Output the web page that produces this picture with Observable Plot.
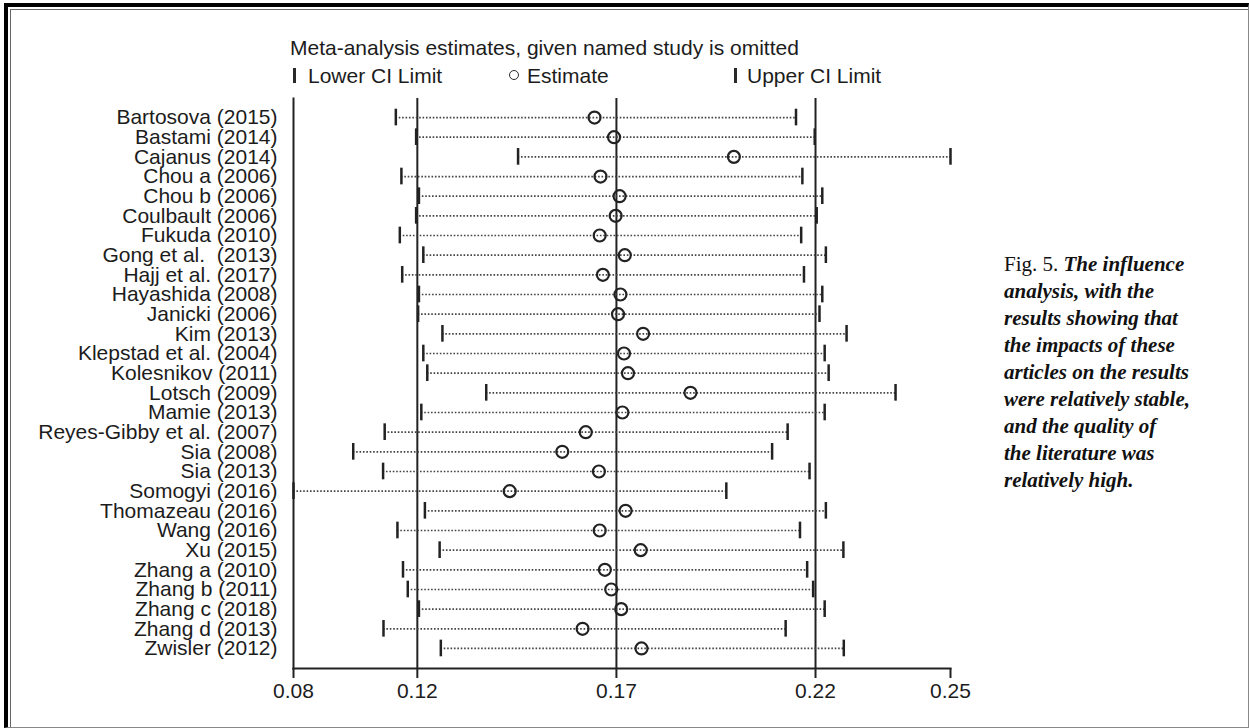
<!DOCTYPE html>
<html>
<head>
<meta charset="utf-8">
<script src="https://cdn.jsdelivr.net/npm/d3@7"></script>
<script src="https://cdn.jsdelivr.net/npm/@observablehq/plot@0.6"></script>
<style>
  html, body { margin: 0; padding: 0; background: #fff; }
  #page { position: relative; width: 1249px; height: 728px; overflow: hidden; background: #fff; }
  #plot { position: absolute; left: 0; top: 0; }
  .sans { font-family: "Liberation Sans", Arial, Helvetica, sans-serif; color: #1c1c1c; font-size: 21px; line-height: 21px; white-space: pre; position: absolute; }
  .bar { position: absolute; width: 2.5px; height: 15px; background: #2a2a2a; }
  .circ { position: absolute; width: 8px; height: 8px; border: 1.8px solid #2a2a2a; border-radius: 50%; }
  #caption { position: absolute; left: 1004px; top: 251px; font-family: "Liberation Serif", "Times New Roman", serif; font-size: 21px; line-height: 27px; color: #111; white-space: pre; }
  #caption div { height: 27px; }
  #caption .it { font-style: italic; font-weight: bold; }
  #outer { position: absolute; left: 4px; top: 3px; right: 0; bottom: 0; border-top: 4px solid #000; border-left: 4px solid #000; border-right: 1.5px solid #888; border-bottom: 1.5px solid #888; }
  #inner { position: absolute; left: 10px; top: 9px; right: 1.5px; bottom: 1.5px; border-top: 1px solid #666; border-left: 1px solid #666; }
</style>
</head>
<body>
<div id="page">
  <div id="outer"></div>
  <div id="inner"></div>
  <div id="plot"></div>
  <div class="sans" style="left:290px; top:37px;">Meta-analysis estimates, given named study is omitted</div>
  <div class="bar" style="left:293px; top:68px;"></div>
  <div class="sans" style="left:308px; top:65px;">Lower CI Limit</div>
  <div class="circ" style="left:509px; top:70px;"></div>
  <div class="sans" style="left:527px; top:65px;">Estimate</div>
  <div class="bar" style="left:734px; top:68px;"></div>
  <div class="sans" style="left:747px; top:65px;">Upper CI Limit</div>
  <div id="caption"></div>
</div>
<script>
const captionLead = "Fig. 5. ";
const captionLines = [
  "The influence",
  "analysis, with the",
  "results showing that",
  "the impacts of these",
  "articles on the results",
  "were relatively stable,",
  "and the quality of",
  "the literature was",
  "relatively high."
];
const studies = [
  "Bartosova (2015)", "Bastami (2014)", "Cajanus (2014)", "Chou a (2006)", "Chou b (2006)",
  "Coulbault (2006)", "Fukuda (2010)", "Gong et al.  (2013)", "Hajj et al. (2017)", "Hayashida (2008)",
  "Janicki (2006)", "Kim (2013)", "Klepstad et al. (2004)", "Kolesnikov (2011)", "Lotsch (2009)",
  "Mamie (2013)", "Reyes-Gibby et al. (2007)", "Sia (2008)", "Sia (2013)", "Somogyi (2016)",
  "Thomazeau (2016)", "Wang (2016)", "Xu (2015)", "Zhang a (2010)", "Zhang b (2011)",
  "Zhang c (2018)", "Zhang d (2013)", "Zwisler (2012)"
];
const lower = [
  0.1146, 0.1197, 0.1453, 0.1160, 0.1204,
  0.1197, 0.1156, 0.1215, 0.1162, 0.1204,
  0.1202, 0.1263, 0.1215, 0.1225, 0.1373,
  0.1210, 0.1118, 0.1039, 0.1114, 0.0889,
  0.1219, 0.1150, 0.1256, 0.1164, 0.1176,
  0.1204, 0.1115, 0.1259
];
const estimate = [
  0.1645, 0.1694, 0.1995, 0.1660, 0.1708,
  0.1698, 0.1658, 0.1721, 0.1666, 0.1710,
  0.1704, 0.1767, 0.1719, 0.1729, 0.1886,
  0.1715, 0.1623, 0.1564, 0.1656, 0.1432,
  0.1723, 0.1658, 0.1761, 0.1671, 0.1687,
  0.1712, 0.1615, 0.1763
];
const upper = [
  0.2151, 0.2198, 0.2539, 0.2167, 0.2217,
  0.2203, 0.2164, 0.2226, 0.2171, 0.2217,
  0.2210, 0.2278, 0.2223, 0.2233, 0.2401,
  0.2223, 0.2130, 0.2091, 0.2185, 0.1976,
  0.2226, 0.2161, 0.2270, 0.2179, 0.2194,
  0.2223, 0.2125, 0.2271
];
const refLines = [0.12, 0.17, 0.22];
const tickValues = [0.0889, 0.12, 0.17, 0.22, 0.2539];
const tickLabels = ["0.08", "0.12", "0.17", "0.22", "0.25"];

const data = studies.map((s, i) => ({study: s, lower: lower[i], est: estimate[i], upper: upper[i]}));

// caption, one block per line
const cap = document.getElementById("caption");
captionLines.forEach((line, i) => {
  const row = document.createElement("div");
  if (i === 0) {
    const lead = document.createElement("span");
    lead.textContent = captionLead;
    row.appendChild(lead);
  }
  const it = document.createElement("span");
  it.className = "it";
  it.textContent = line;
  row.appendChild(it);
  cap.appendChild(row);
});

const ink = "#222";
const chart = Plot.plot({
  width: 960,
  height: 728,
  marginLeft: 293,
  marginRight: 10,
  marginTop: 98,
  marginBottom: 60,
  style: {fontFamily: "'Liberation Sans', Arial, Helvetica, sans-serif", fontSize: "21px", color: "#1c1c1c", background: "transparent", overflow: "visible"},
  x: {domain: [tickValues[0], tickValues[tickValues.length - 1]]},
  y: {type: "band", domain: studies, range: [107.2, 657.8], padding: 0, round: false},
  marks: [
    Plot.frame({anchor: "left", stroke: ink, strokeWidth: 2}),
    Plot.frame({anchor: "bottom", stroke: ink, strokeWidth: 2}),
    Plot.ruleX(refLines, {stroke: ink, strokeWidth: 2}),
    Plot.ruleY(data, {y: "study", x1: "lower", x2: "upper", stroke: "#444", strokeWidth: 1.7, strokeDasharray: "1.6,1.8"}),
    Plot.tickX(data, {x: "lower", y: "study", insetTop: 1.5, insetBottom: 1.5, stroke: ink, strokeWidth: 2.5}),
    Plot.tickX(data, {x: "upper", y: "study", insetTop: 1.5, insetBottom: 1.5, stroke: ink, strokeWidth: 2.5}),
    Plot.dot(data, {x: "est", y: "study", r: 6, stroke: ink, strokeWidth: 2.2, fill: "none"}),
    Plot.axisX({ticks: tickValues, tickFormat: d => tickLabels[tickValues.indexOf(d)], tickSize: 10, tickPadding: 5, strokeWidth: 2, stroke: ink, label: null, fontSize: 21}),
    Plot.axisY({tickSize: 0, tickPadding: 16, label: null, fontSize: 21})
  ]
});
chart.querySelectorAll("text").forEach(t => t.style.whiteSpace = "pre");
document.getElementById("plot").appendChild(chart);
</script>
</body>
</html>
